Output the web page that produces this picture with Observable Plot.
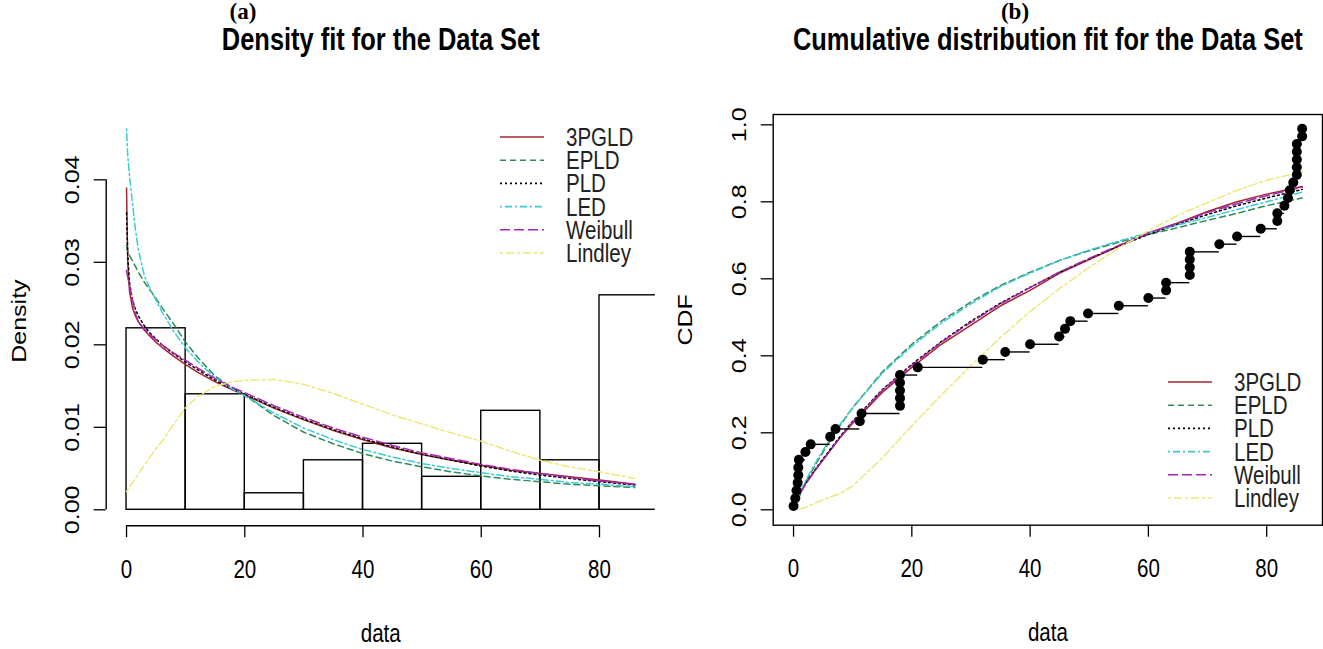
<!DOCTYPE html>
<html><head><meta charset="utf-8">
<script src="https://cdn.jsdelivr.net/npm/d3@7"></script>
<script src="https://cdn.jsdelivr.net/npm/@observablehq/plot@0.6"></script>
<style>
body{margin:0;background:#fff;}
#wrap{position:relative;width:1323px;height:649px;overflow:hidden;background:#fff;}
.panel{position:absolute;top:0;}
.tag{position:absolute;font-family:"Liberation Serif","Times New Roman",serif;font-weight:bold;font-size:23px;line-height:23px;transform:translateX(-50%);}
</style></head><body><div id="wrap"></div>
<script>
const FONT = '"Liberation Sans", Arial, sans-serif';
const SQUEEZE = 0.82; // the reference's lettering is horizontally condensed

// Series (legend order)
const seriesNames = ["3PGLD", "EPLD", "PLD", "LED", "Weibull", "Lindley"];
const seriesColors = ["#A3262E", "#2E8B57", "#000000", "#3CCCD4", "#A526B5", "#EEE87A"];
const seriesDash = [null, "6,4", "2,3", "2,3,7,3", "10,4", "3,3,8,3"];

// Histogram (density) of the data set
const histBreaks = [0, 10, 20, 30, 40, 50, 60, 70, 80, 90];
const histDensity = [0.022, 0.014, 0.002, 0.006, 0.008, 0.004, 0.012, 0.006, 0.026];

// Fitted densities
const densGrid =    [0, 0.2, 0.5, 1, 1.5, 2, 3, 4, 5, 6, 8, 10, 12, 15, 18, 20, 25, 30, 35, 40, 45, 50, 55, 60, 65, 70, 75, 80, 86];
const dens3PGLD =   [0.0390, 0.0300, 0.0265, 0.0245, 0.0235, 0.0228, 0.0218, 0.0210, 0.0203, 0.0197, 0.0186, 0.0176, 0.0167, 0.0155, 0.0145, 0.0139, 0.0123, 0.0109, 0.0096, 0.0085, 0.0075, 0.0067, 0.0060, 0.0054, 0.0048, 0.0044, 0.0040, 0.0036, 0.0031];
const densEPLD =    [0.0320, 0.0314, 0.0308, 0.0302, 0.0295, 0.0288, 0.0276, 0.0266, 0.0256, 0.0245, 0.0225, 0.0203, 0.0185, 0.0162, 0.0147, 0.0139, 0.0114, 0.0094, 0.0080, 0.0068, 0.0059, 0.0052, 0.0046, 0.0041, 0.0037, 0.0034, 0.0031, 0.0029, 0.0027];
const densPLD =     [0.0360, 0.0310, 0.0275, 0.0255, 0.0243, 0.0235, 0.0223, 0.0214, 0.0207, 0.0200, 0.0189, 0.0179, 0.0170, 0.0157, 0.0146, 0.0140, 0.0124, 0.0110, 0.0097, 0.0086, 0.0076, 0.0067, 0.0060, 0.0053, 0.0047, 0.0042, 0.0038, 0.0034, 0.0030];
const densLED =     [0.0462, 0.0430, 0.0405, 0.0372, 0.0340, 0.0315, 0.0284, 0.0268, 0.0254, 0.0240, 0.0216, 0.0196, 0.0180, 0.0160, 0.0146, 0.0138, 0.0117, 0.0099, 0.0085, 0.0073, 0.0064, 0.0056, 0.0050, 0.0045, 0.0040, 0.0037, 0.0033, 0.0031, 0.0028];
const densWeibull = [0.0290, 0.0282, 0.0272, 0.0255, 0.0238, 0.0228, 0.0219, 0.0212, 0.0206, 0.0200, 0.0190, 0.0181, 0.0172, 0.0159, 0.0148, 0.0142, 0.0126, 0.0112, 0.0099, 0.0088, 0.0078, 0.0069, 0.0062, 0.0055, 0.0049, 0.0044, 0.0039, 0.0035, 0.0031];
const densLindley = [0.0022, 0.0024, 0.0028, 0.0033, 0.0038, 0.0043, 0.0054, 0.0064, 0.0074, 0.0083, 0.0104, 0.0124, 0.0137, 0.0150, 0.0155, 0.0157, 0.0158, 0.0152, 0.0141, 0.0128, 0.0115, 0.0104, 0.0093, 0.0083, 0.0071, 0.0060, 0.0052, 0.0046, 0.0038];

// Empirical CDF points (sorted data, plotting positions)
const dataSorted = [0.0, 0.3, 0.5, 0.7, 0.8, 0.8, 0.9, 2.0, 2.9, 6.2, 7.1, 11.2, 11.5, 18.0, 18.0, 18.0, 18.0, 18.0, 21.0, 32.0, 35.8, 40.0, 44.9, 45.9, 46.8, 49.8, 55.0, 60.0, 63.0, 63.0, 67.0, 67.0, 67.0, 67.0, 72.0, 75.0, 79.0, 81.8, 81.8, 83.0, 83.6, 83.9, 84.5, 85.1, 85.1, 85.1, 85.1, 85.1, 86.0, 86.0];
const ecdfValue = [0.01, 0.03, 0.05, 0.07, 0.09, 0.11, 0.13, 0.15, 0.17, 0.19, 0.21, 0.23, 0.25, 0.27, 0.29, 0.31, 0.33, 0.35, 0.37, 0.39, 0.41, 0.43, 0.45, 0.47, 0.49, 0.51, 0.53, 0.55, 0.57, 0.59, 0.61, 0.63, 0.65, 0.67, 0.69, 0.71, 0.73, 0.75, 0.77, 0.79, 0.81, 0.83, 0.85, 0.87, 0.89, 0.91, 0.93, 0.95, 0.97, 0.99];

// Fitted CDFs
const cdfGrid =    [0, 1, 2, 4, 6, 8, 10, 15, 20, 25, 30, 35, 40, 45, 50, 55, 60, 65, 70, 75, 80, 86];
const cdf3PGLD =   [0.020, 0.045, 0.068, 0.110, 0.150, 0.190, 0.225, 0.305, 0.370, 0.430, 0.480, 0.530, 0.570, 0.615, 0.650, 0.685, 0.720, 0.745, 0.775, 0.800, 0.820, 0.840];
const cdfEPLD =    [0.005, 0.035, 0.070, 0.125, 0.175, 0.222, 0.265, 0.358, 0.430, 0.490, 0.540, 0.583, 0.617, 0.648, 0.673, 0.695, 0.715, 0.733, 0.752, 0.770, 0.790, 0.810];
const cdfPLD =     [0.015, 0.042, 0.067, 0.112, 0.153, 0.193, 0.230, 0.312, 0.378, 0.437, 0.490, 0.537, 0.578, 0.617, 0.652, 0.685, 0.715, 0.742, 0.767, 0.790, 0.810, 0.832];
const cdfLED =     [0.000, 0.040, 0.075, 0.130, 0.180, 0.225, 0.265, 0.355, 0.425, 0.485, 0.535, 0.580, 0.615, 0.648, 0.675, 0.698, 0.720, 0.740, 0.760, 0.780, 0.800, 0.825];
const cdfWeibull = [0.010, 0.040, 0.065, 0.110, 0.150, 0.190, 0.228, 0.310, 0.375, 0.435, 0.487, 0.535, 0.577, 0.618, 0.653, 0.687, 0.718, 0.745, 0.772, 0.795, 0.816, 0.838];
const cdfLindley = [0.000, 0.002, 0.006, 0.020, 0.032, 0.043, 0.062, 0.135, 0.218, 0.298, 0.375, 0.448, 0.515, 0.575, 0.630, 0.680, 0.725, 0.765, 0.798, 0.830, 0.856, 0.878];

// Axis ticks and text
const xTicks = [0, 20, 40, 60, 80];
const densTicks = [0, 0.01, 0.02, 0.03, 0.04];
const cdfTicks = [0, 0.2, 0.4, 0.6, 0.8, 1.0];
const titleA = "Density fit for the Data Set";
const titleB = "Cumulative distribution fit for the Data Set";

// ---- build tables ----
const densSeries = [dens3PGLD, densEPLD, densPLD, densLED, densWeibull, densLindley];
const cdfSeries = [cdf3PGLD, cdfEPLD, cdfPLD, cdfLED, cdfWeibull, cdfLindley];
const densRows = seriesNames.flatMap((s, k) => densGrid.map((x, i) => ({s, x, y: densSeries[k][i]})));
const cdfRows = seriesNames.flatMap((s, k) => cdfGrid.map((x, i) => ({s, x, y: cdfSeries[k][i]})));
const histRows = histDensity.map((d, i) => ({x1: histBreaks[i], x2: histBreaks[i + 1], y: d}));
const ecdfRows = dataSorted.map((x, i) => ({x, y: ecdfValue[i]}));
const stepRows = ecdfRows.slice(0, -1).map((d, i) => ({x1: d.x, x2: ecdfRows[i + 1].x, y: d.y})).filter(d => d.x2 > d.x1);

const xDom = [-3.44, 89.44];
const lineMarks = (rows) => seriesNames.map((s, k) => Plot.line(rows.filter(d => d.s === s), {
  x: "x", y: "y", stroke: seriesColors[k], strokeWidth: 1.5, strokeDasharray: seriesDash[k], clip: true
}));

const wrap = document.getElementById("wrap");

// Condense lettering horizontally: horizontal texts get a shorter textLength,
// vertical texts get thinner glyphs (screen-x squeeze) but keep their length.
function condense(root) {
  root.querySelectorAll("text").forEach(t => {
    const tr = t.getAttribute("transform") || "";
    if (/rotate\(-90\)/.test(tr)) {
      t.setAttribute("transform", tr.replace(/rotate\(-90\)/, `scale(${SQUEEZE},1) rotate(-90)`));
    } else {
      const L = t.getComputedTextLength();
      if (L > 0) {
        t.setAttribute("textLength", (L * SQUEEZE).toFixed(2));
        t.setAttribute("lengthAdjust", "spacingAndGlyphs");
      }
    }
  });
}

const axisStyle = {tickSize: 12, label: null, fontSize: 25, strokeWidth: 1.3};

// ---- left panel: density ----
const left = Plot.plot({
  width: 660, height: 649,
  marginLeft: 105.7, marginRight: 5.2, marginTop: 105.9, marginBottom: 123.7,
  style: {fontFamily: FONT, fontSize: "25px", background: "transparent", overflow: "visible", color: "black"},
  x: {domain: xDom},
  y: {domain: [-0.00194, 0.0489]},
  marks: [
    Plot.rectY(histRows, {x1: "x1", x2: "x2", y: "y", fill: "none", stroke: "black", strokeWidth: 1.4, clip: true}),
    ...lineMarks(densRows),
    Plot.ruleX([xDom[0]], {y1: densTicks[0], y2: densTicks[densTicks.length - 1], strokeWidth: 1.4}),
    Plot.ruleY([-0.00194], {x1: xTicks[0], x2: xTicks[xTicks.length - 1], strokeWidth: 1.4}),
    Plot.axisX({ticks: xTicks, tickPadding: 22, ...axisStyle}),
    Plot.axisY({ticks: densTicks, tickFormat: d3.format(".2f"), tickRotate: -90, tickPadding: 15, ...axisStyle}),
    Plot.text(["data"], {frameAnchor: "bottom", dy: 108, lineAnchor: "middle", fontSize: 25}),
    Plot.text(["Density"], {frameAnchor: "left", rotate: -90, dx: -87, dy: 5, textAnchor: "middle", lineAnchor: "middle", fontSize: 25}),
    Plot.text([titleA], {frameAnchor: "top", dy: -66, lineAnchor: "middle", fontSize: 31, fontWeight: "bold"})
  ]
});
left.classList.add("panel");
left.style.left = "0px";
wrap.appendChild(left);
condense(left);

// ---- right panel: CDF ----
const right = Plot.plot({
  width: 663, height: 649,
  marginLeft: 112.7, marginRight: 1, marginTop: 114, marginBottom: 124.3,
  style: {fontFamily: FONT, fontSize: "25px", background: "transparent", overflow: "visible", color: "black"},
  x: {domain: xDom},
  y: {domain: [-0.04, 1.0268]},
  marks: [
    Plot.frame({stroke: "black", strokeWidth: 1.4}),
    ...lineMarks(cdfRows),
    Plot.ruleY(stepRows, {y: "y", x1: "x1", x2: "x2", stroke: "black", strokeWidth: 1.4}),
    Plot.dot(ecdfRows, {x: "x", y: "y", r: 5, fill: "black", stroke: "none"}),
    Plot.axisX({ticks: xTicks, tickPadding: 22, ...axisStyle}),
    Plot.axisY({ticks: cdfTicks, tickFormat: d3.format(".1f"), tickRotate: -90, tickPadding: 15, ...axisStyle}),
    Plot.text(["data"], {frameAnchor: "bottom", dy: 108, lineAnchor: "middle", fontSize: 25}),
    Plot.text(["CDF"], {frameAnchor: "left", rotate: -90, dx: -88, dy: 0, textAnchor: "middle", lineAnchor: "middle", fontSize: 25}),
    Plot.text([titleB], {frameAnchor: "top", dy: -74, lineAnchor: "middle", fontSize: 31, fontWeight: "bold"})
  ]
});
right.classList.add("panel");
right.style.left = "660px";
wrap.appendChild(right);
condense(right);

// ---- legends ----
function legend(x, y) {
  const svg = d3.create("svg").attr("width", 154).attr("height", 150)
    .style("position", "absolute").style("left", x + "px").style("top", y + "px")
    .style("font-family", FONT).style("font-size", "25px");
  seriesNames.forEach((s, i) => {
    const yy = 12 + i * 23.2;
    svg.append("line").attr("x1", 0).attr("x2", 44).attr("y1", yy).attr("y2", yy)
      .attr("stroke", seriesColors[i]).attr("stroke-width", 1.6)
      .attr("stroke-dasharray", seriesDash[i]);
    svg.append("text").attr("x", 66).attr("y", yy).attr("dy", "0.36em").attr("fill", "#222").text(s);
  });
  wrap.appendChild(svg.node());
  condense(svg.node());
}
legend(500, 124.7);
legend(1168, 369.7);

// ---- panel tags ----
[["(a)", 243], ["(b)", 1015]].forEach(([t, x]) => {
  const d = document.createElement("div");
  d.className = "tag"; d.textContent = t;
  d.style.left = x + "px"; d.style.top = "0px";
  wrap.appendChild(d);
});
</script></body></html>
